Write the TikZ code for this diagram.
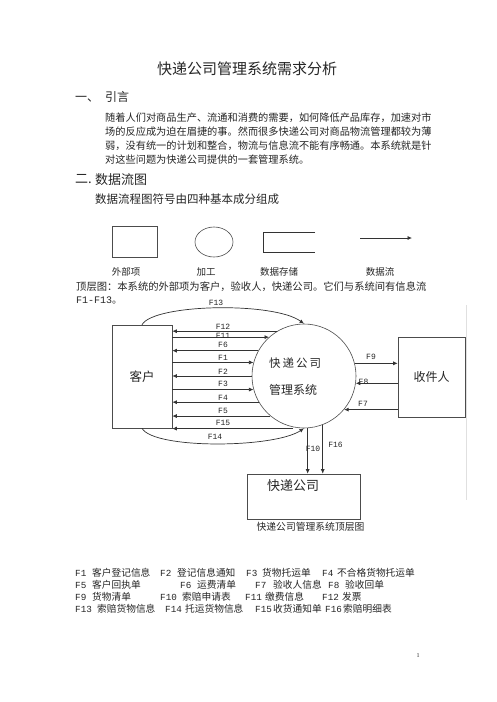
\documentclass[tikz,border=0pt]{standalone}
\usepackage{fontspec}
\setmainfont{Noto Sans CJK SC}
\newfontfamily\monof{Liberation Mono}
\newfontfamily\serf{Liberation Serif}
\usetikzlibrary{arrows.meta,calc,shapes.geometric}
\newcommand{\fsz}[1]{\fontsize{#1}{#1}\selectfont}
\begin{document}
\begin{tikzpicture}[x=1pt,y=-1pt,
  txt/.style={inner sep=0pt,anchor=west,text=black!85},
  ctxt/.style={inner sep=0pt,text=black!85},
  fl/.style={inner sep=0pt,font=\monof\fsz{8},text=black!85},
  lg/.style={inner sep=0pt,anchor=west,text=black!85,font=\fsz{9.7}},
  lgf/.style={inner sep=0pt,anchor=west,text=black!85,font=\monof\fsz{9.3}},
  ln/.style={draw=black!80,line width=0.7pt},
  arr/.style={ln,-{Latex[length=4.5pt,width=4pt]}},
  box/.style={draw=black!70,line width=0.6pt,inner sep=0pt}]
\useasboundingbox[fill=white] (0,0) rectangle (496,702);

% ---- text part ----
\node[ctxt,font=\fsz{15}] (title) at (247,69) {快递公司管理系统需求分析};
\node[txt,font=\fsz{12}] (h1) at (75,97) {一、\hspace{6pt}引言};
\node[txt,font=\fsz{10.2}] (p1) at (105,117.5) {随着人们对商品生产、流通和消费的需要，如何降低产品库存，加速对市};
\node[txt,font=\fsz{10.2}] (p2) at (105,131.5) {场的反应成为迫在眉捷的事。然而很多快递公司对商品物流管理都较为薄};
\node[txt,font=\fsz{10.2}] (p3) at (105,145.5) {弱，没有统一的计划和整合，物流与信息流不能有序畅通。本系统就是针};
\node[txt,font=\fsz{10.2}] (p4) at (105,159.5) {对这些问题为快递公司提供的一套管理系统。};
\node[txt,font=\fsz{13}] (h2a) at (75,179.5) {二.};
\node[txt,font=\fsz{13}] (h2b) at (95,179.5) {数据流图};
\node[txt,font=\fsz{11.5}] (sub) at (95,199) {数据流程图符号由四种基本成分组成};

% ---- symbol legend ----
\node[box,minimum width=45pt,minimum height=31pt] (sym1) at (134.5,241.5) {};
\node[box,ellipse,minimum width=38pt,minimum height=30pt] (sym2) at (214,242) {};
\draw[ln] (315,232) -- (263,232) -- (263,252) -- (315,252);
\coordinate (dfa) at (360,238);
\coordinate (dfb) at (412,238);
\draw[arr] (dfa) -- (dfb);
\node[ctxt,font=\fsz{9.5}] (s1) at (126,272) {外部项};
\node[ctxt,font=\fsz{9.5}] (s2) at (206,272) {加工};
\node[ctxt,font=\fsz{9.5}] (s3) at (279,272) {数据存储};
\node[ctxt,font=\fsz{9.5}] (s4) at (380,272) {数据流};
\node[txt,font=\fsz{10.3}] (top1) at (76,287) {顶层图：本系统的外部项为客户，验收人，快递公司。它们与系统间有信息流};
\node[txt,font=\fsz{10}] (top2) at (76,300) {{\monof F1-F13}。};

% ---- diagram ----
\draw[black!12,line width=0.5pt] (466,305) -- (466,500);
\node[box,minimum width=60pt,minimum height=103pt,font=\fsz{12.5},text=black!85] (kehu) at (142,376.5) {客户};
\node[box,circle,minimum size=104pt] (sys) at (304,376) {};
\node[txt,font=\fsz{11.5}] (sysa) at (269,363) {快\hspace{2pt}递\hspace{2pt}公\hspace{2pt}司};
\node[txt,font=\fsz{12}] (sysb) at (269,390) {管理系统};
\node[box,minimum width=67pt,minimum height=80pt,font=\fsz{12},text=black!85] (shou) at (431.5,377) {收件人};
\node[box,minimum width=113pt,minimum height=45pt] (kd) at (303.5,496.5) {};
\node[txt,font=\fsz{13}] (kdt) at (267,486) {快递公司};
\node[ctxt,font=\fsz{9.8}] (cap) at (310.5,527) {快递公司管理系统顶层图};

% flows customer <-> system
\draw[arr] (sys.121.6) -- (sys.121.6 -| kehu.east);
\draw[arr] (sys.132.2 -| kehu.east) -- (sys.132.2);
\draw[arr] (sys.151.3) -- (sys.151.3 -| kehu.east);
\draw[arr] (sys.165.9 -| kehu.east) -- (sys.165.9);
\draw[arr] (sys.180.8) -- (sys.180.8 -| kehu.east);
\draw[arr] (sys.195 -| kehu.east) -- (sys.195);
\draw[arr] (sys.210.6) -- (sys.210.6 -| kehu.east);
\draw[arr] (sys.230.3) -- (sys.230.3 -| kehu.east);
\coordinate (f15) at ($(sys.south)+(-11,0.3)$);
\draw[arr] (f15) -- (f15 -| kehu.east);
\draw[arr] (kehu.north) .. controls +(12,-21) and +(-30,-22) .. (sys.north);
\draw[arr] (kehu.south) .. controls +(12,21) and +(-30,20) .. (sys.south);
\node[fl] (lf13) at (216,303) {F13};
\node[fl] (lf12) at (223,327) {F12};
\node[fl] (lf11) at (223,335.5) {F11};
\node[fl] (lf6) at (223,345) {F6};
\node[fl] (lf1) at (223,358) {F1};
\node[fl] (lf2) at (223,371.5) {F2};
\node[fl] (lf3) at (223,384) {F3};
\node[fl] (lf4) at (223,397.5) {F4};
\node[fl] (lf5) at (223,410.5) {F5};
\node[fl] (lf15) at (223,423) {F15};
\node[fl] (lf14) at (215,436.5) {F14};

% flows system <-> receiver
\draw[arr] (sys.14.5) -- (sys.14.5 -| shou.west);
\draw[arr] (sys.352.3 -| shou.west) -- (sys.352.3);
\draw[arr] (sys.320.6 -| shou.west) -- (sys.320.6);
\node[fl] (lf9) at (371,357) {F9};
\node[fl] (lf8) at (363.5,382) {F8};
\node[fl] (lf7) at (363,404) {F7};

% flows system -> courier company
\draw[arr] (sys.274.4) -- (sys.274.4 |- kd.north);
\draw[arr] (sys.291) -- (sys.291 |- kd.north);
\node[fl] (lf10) at (313,449) {F10};
\node[fl] (lf16) at (335.5,445) {F16};

% ---- legend ----
\node[lgf] (a1) at (75,573) {F1};  \node[lg] (b1) at (92,573) {客户登记信息};
\node[lgf] (a2) at (160,573) {F2}; \node[lg] (b2) at (177,573) {登记信息通知};
\node[lgf] (a3) at (246,573) {F3}; \node[lg] (b3) at (262,573) {货物托运单};
\node[lgf] (a4) at (322,573) {F4}; \node[lg] (b4) at (337,573) {不合格货物托运单};
\node[lgf] (a5) at (75,585) {F5};  \node[lg] (b5) at (92,585) {客户回执单};
\node[lgf] (a6) at (180,585) {F6}; \node[lg] (b6) at (197,585) {运费清单};
\node[lgf] (a7) at (255,585) {F7}; \node[lg] (b7) at (273,585) {验收人信息};
\node[lgf] (a8) at (328,585) {F8}; \node[lg] (b8) at (345,585) {验收回单};
\node[lgf] (a9) at (75,597) {F9};  \node[lg] (b9) at (92,597) {货物清单};
\node[lgf] (a10) at (160,597) {F10}; \node[lg] (b10) at (182,597) {索赔申请表};
\node[lgf] (a11) at (245,597) {F11}; \node[lg] (b11) at (265,597) {缴费信息};
\node[lgf] (a12) at (322,597) {F12}; \node[lg] (b12) at (342,597) {发票};
\node[lgf] (a13) at (75,609) {F13};  \node[lg] (b13) at (97,609) {索赔货物信息};
\node[lgf] (a14) at (165,609) {F14}; \node[lg] (b14) at (185,609) {托运货物信息};
\node[lgf] (a15) at (255,609) {F15}; \node[lg] (b15) at (273,609) {收货通知单};
\node[lgf] (a16) at (325,609) {F16}; \node[lg] (b16) at (343,609) {索赔明细表};

\node[ctxt,font=\serf\fsz{6}] (pg) at (418,656) {1};
\end{tikzpicture}
\end{document}
